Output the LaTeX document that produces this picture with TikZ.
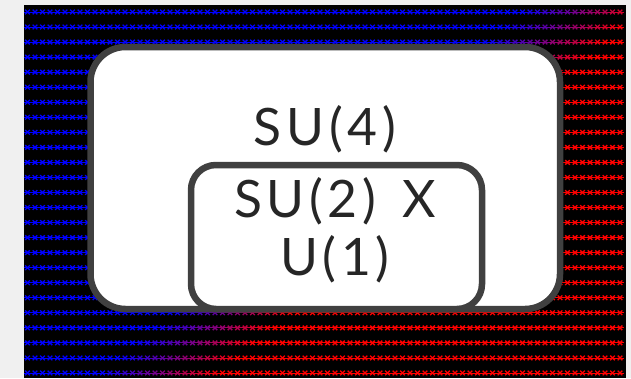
\documentclass[tikz,border=0pt]{standalone}
\usepackage{fontspec}
\setmainfont{Lato}
\newfontfamily\labelfont[LetterSpace=9]{Lato}
\definecolor{bggrey}{HTML}{F0F0F0}
\definecolor{boxline}{HTML}{404040}
\definecolor{txt}{HTML}{262626}
\tikzset{
  groupbox/.style={draw=boxline, fill=white, line width=6.5pt, inner sep=0pt},
  grouplabel/.style={text=txt, anchor=base, inner sep=0pt, font=\labelfont\fontsize{51.6}{60}\selectfont}
}
\begin{document}
\begin{tikzpicture}[x=1pt,y=-1pt]
\fill[bggrey] (0,0) rectangle (631,378);
\useasboundingbox (0,0) rectangle (631,378);
\fill[black] (24,5) rectangle (626,378);
\foreach \r in {0,...,24}{
  \pgfmathsetmacro{\yy}{12+15.04*\r}
  \pgfmathsetmacro{\xc}{580-1.163*(\yy-12)}
  \foreach \c in {0,...,79}{
    \pgfmathsetmacro{\xx}{27.5+7.5*\c}
    \pgfmathtruncatemacro{\t}{max(0,min(100,((\xx-\xc)/120+0.5)*100))}
    \draw[draw=red!\t!blue, line width=0.8pt] (\xx-3.75,\yy) -- (\xx+3.75,\yy);
    \draw[draw=red!\t!blue, line width=1.3pt] (\xx-2.3,\yy-2.3) -- (\xx+2.3,\yy+2.3) (\xx-2.3,\yy+2.3) -- (\xx+2.3,\yy-2.3);
  }
}
\node[groupbox, rounded corners=35pt, minimum width=469.5pt, minimum height=262pt] (outer) at (325.25,178) {};
\node[groupbox, rounded corners=25pt, minimum width=291pt, minimum height=144pt] (inner) at (336.5,237) {};
\node[grouplabel] (su4) at (324.8,145) {SU(4)};
\node[grouplabel] (su2) at (334.8,217) {SU(2)\hspace{8pt} X};
\node[grouplabel] (u1) at (334.8,275) {U(1)};
\end{tikzpicture}
\end{document}
